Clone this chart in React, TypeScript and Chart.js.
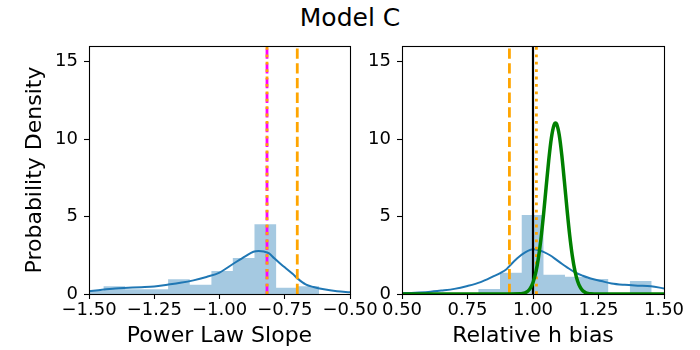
import { useEffect, useRef } from "react";
import { Chart, registerables } from "chart.js";

Chart.register(...registerables);

const FONT = "'DejaVu Sans', sans-serif";
Chart.defaults.font.family = FONT;
Chart.defaults.color = "#000";

// ---- shared axis settings ----
const densityTicks = [0, 5, 10, 15];
const densityMax = 16;

// ---- left panel: Power Law Slope ----
const slopeTicks = [-1.5, -1.25, -1.0, -0.75, -0.5];
const slopeRange = [-1.5, -0.5];
const slopeBinEdges = [-1.527, -1.444, -1.362, -1.279, -1.197, -1.114, -1.031, -0.949, -0.866, -0.783, -0.701, -0.618];
const slopeBinDensity = [0.2, 0.5, 0.3, 0.3, 0.95, 0.6, 1.48, 2.32, 4.5, 0.41, 0.5];
const slopeKdeX = [-1.5, -1.45, -1.4, -1.35, -1.3, -1.25, -1.2, -1.15, -1.1, -1.05, -1.0, -0.95, -0.9, -0.87, -0.85, -0.83, -0.81, -0.79, -0.77, -0.75, -0.72, -0.7, -0.67, -0.64, -0.6, -0.55, -0.5];
const slopeKdeY = [0.18, 0.28, 0.36, 0.4, 0.44, 0.49, 0.6, 0.72, 0.88, 1.1, 1.38, 1.92, 2.45, 2.73, 2.78, 2.74, 2.62, 2.3, 2.0, 1.72, 1.3, 0.99, 0.62, 0.45, 0.3, 0.18, 0.11];
const slopeMedian = -0.818;
const slopeReference = -0.818;
const slopeInput = -0.702;

// ---- right panel: Relative h bias ----
const biasTicks = [0.5, 0.75, 1.0, 1.25, 1.5];
const biasRange = [0.5, 1.5];
const biasBinEdges = [0.791, 0.874, 0.957, 1.04, 1.122, 1.205, 1.287, 1.37, 1.453];
const biasBinDensity = [0.33, 1.37, 5.09, 1.25, 1.12, 0.97, 0, 0.84];
const biasKdeX = [0.5, 0.55, 0.6, 0.65, 0.7, 0.75, 0.8, 0.85, 0.875, 0.9, 0.91, 0.94, 0.97, 1.0, 1.02, 1.04, 1.065, 1.09, 1.11, 1.13, 1.16, 1.19, 1.22, 1.26, 1.3, 1.35, 1.4, 1.45, 1.5];
const biasKdeY = [0.05, 0.08, 0.13, 0.22, 0.33, 0.52, 0.77, 1.15, 1.35, 1.62, 1.8, 2.3, 2.68, 2.88, 2.84, 2.72, 2.5, 2.2, 1.95, 1.72, 1.4, 1.18, 1.0, 0.84, 0.68, 0.59, 0.54, 0.5, 0.36];
const biasPriorX = [0.5, 0.9, 0.95, 0.96, 0.97, 0.98, 0.99, 1.0, 1.01, 1.02, 1.03, 1.04, 1.05, 1.06, 1.07, 1.08, 1.086, 1.09, 1.1, 1.11, 1.12, 1.13, 1.14, 1.15, 1.16, 1.17, 1.18, 1.19, 1.2, 1.21, 1.22, 1.25, 1.5];
const biasPriorY = [0, 0, 0.01, 0.03, 0.08, 0.18, 0.38, 0.74, 1.34, 2.25, 3.51, 5.09, 6.87, 8.62, 10.05, 10.89, 11.03, 10.97, 10.27, 8.94, 7.23, 5.44, 3.8, 2.47, 1.49, 0.84, 0.44, 0.21, 0.1, 0.04, 0.016, 0, 0];
const biasTrue = 1.0;
const biasReference = 1.013;
const biasInput = 0.91;

// ---- styles ----
const C0 = "#1f77b4";
const HIST_FILL = "rgba(31,119,180,0.4)";
const ORANGE = "#ffa500";
const MAGENTA = "#ff00ff";
const GREEN = "#008000";
const DASHED = [10.3, 4.4];
const DOTTED = [2.8, 4.6];

const fmtTick = (v: number) => Number(v).toFixed(2).replace("-", "\u2212");

function histogram(edges: number[], dens: number[], order: number) {
  const pts = dens.map((d, i) => ({ x: edges[i], y: d }));
  pts.push({ x: edges[edges.length - 1], y: 0 });
  return {
    data: pts,
    stepped: "before",
    borderWidth: 0,
    borderColor: "rgba(0,0,0,0)",
    backgroundColor: HIST_FILL,
    fill: "origin",
    pointRadius: 0,
    order,
  };
}

function curve(xs: number[], ys: number[], color: string, width: number, order: number) {
  return {
    data: xs.map((x, i) => ({ x, y: ys[i] })),
    borderColor: color,
    borderWidth: width,
    pointRadius: 0,
    fill: false,
    cubicInterpolationMode: "monotone",
    order,
  };
}

function vline(x: number, color: string, width: number, dash: number[], order: number) {
  return {
    data: [
      { x, y: 0 },
      { x, y: densityMax },
    ],
    borderColor: color,
    borderWidth: width,
    borderDash: dash,
    borderCapStyle: "butt",
    pointRadius: 0,
    fill: false,
    order,
  };
}

const framePlugin = {
  id: "frame",
  afterDatasetsDraw(chart: any) {
    const { ctx, chartArea: a } = chart;
    ctx.save();
    ctx.strokeStyle = "#000";
    ctx.lineWidth = 1.1;
    ctx.strokeRect(a.left + 0.5, a.top + 0.5, a.right - a.left, a.bottom - a.top);
    ctx.restore();
  },
};

interface PanelSpec {
  range: number[];
  ticks: number[];
  xTitle: string;
  yTitle?: string;
  yWidth: number;
  padRight: number;
  datasets: any[];
}

function buildConfig(spec: PanelSpec): any {
  const tickGrid = {
    drawOnChartArea: false,
    drawTicks: true,
    tickLength: 5,
    tickWidth: 1.1,
    tickColor: "#000",
  };
  return {
    type: "line",
    data: { datasets: spec.datasets },
    plugins: [framePlugin],
    options: {
      animation: false,
      responsive: false,
      events: [],
      layout: { padding: { top: 46, right: spec.padRight, left: 0, bottom: 0 } },
      plugins: { legend: { display: false }, tooltip: { enabled: false } },
      scales: {
        x: {
          type: "linear",
          min: spec.range[0],
          max: spec.range[1],
          afterBuildTicks: (s: any) => {
            s.ticks = spec.ticks.map((v) => ({ value: v }));
          },
          afterFit: (s: any) => {
            s.height = 56;
            s.paddingLeft = 0;
            s.paddingRight = 0;
          },
          ticks: {
            font: { size: 18, family: FONT },
            color: "#000",
            padding: 1,
            maxRotation: 0,
            autoSkip: false,
            callback: (v: any) => fmtTick(v),
          },
          grid: tickGrid,
          border: { display: false },
          title: {
            display: true,
            text: spec.xTitle,
            font: { size: 22, family: FONT },
            color: "#000",
            padding: { top: 0, bottom: 1 },
          },
        },
        y: {
          type: "linear",
          min: 0,
          max: densityMax,
          afterBuildTicks: (s: any) => {
            s.ticks = densityTicks.map((v) => ({ value: v }));
          },
          afterFit: (s: any) => {
            s.width = spec.yWidth;
            s.paddingTop = 0;
            s.paddingBottom = 0;
          },
          ticks: {
            font: { size: 18, family: FONT },
            color: "#000",
            padding: 6,
            autoSkip: false,
            callback: (v: any) => String(v),
          },
          grid: tickGrid,
          border: { display: false },
          title: {
            display: !!spec.yTitle,
            text: spec.yTitle || "",
            font: { size: 22, family: FONT },
            color: "#000",
            padding: { top: 22, bottom: 0 },
          },
        },
      },
    },
  };
}

function Panel({ spec, left, width }: { spec: PanelSpec; left: number; width: number }) {
  const ref = useRef<HTMLCanvasElement>(null);
  useEffect(() => {
    const chart = new Chart(ref.current as HTMLCanvasElement, buildConfig(spec));
    return () => chart.destroy();
  }, []);
  return (
    <canvas
      ref={ref}
      width={width}
      height={350}
      style={{ position: "absolute", left, top: 0, width, height: 350 }}
    />
  );
}

const slopeSpec: PanelSpec = {
  range: slopeRange,
  ticks: slopeTicks,
  xTitle: "Power Law Slope",
  yTitle: "Probability Density",
  yWidth: 89,
  padRight: 30,
  datasets: [
    vline(slopeReference, ORANGE, 2.8, DOTTED, 0),
    vline(slopeMedian, MAGENTA, 2.8, DASHED, 1),
    vline(slopeInput, ORANGE, 2.8, DASHED, 2),
    curve(slopeKdeX, slopeKdeY, C0, 2, 3),
    histogram(slopeBinEdges, slopeBinDensity, 4),
  ],
};

const biasSpec: PanelSpec = {
  range: biasRange,
  ticks: biasTicks,
  xTitle: "Relative h bias",
  yWidth: 52,
  padRight: 36,
  datasets: [
    curve(biasPriorX, biasPriorY, GREEN, 3.5, 0),
    vline(biasReference, ORANGE, 2.8, DOTTED, 1),
    vline(biasTrue, "#000", 2.2, [], 2),
    vline(biasInput, ORANGE, 2.8, DASHED, 3),
    curve(biasKdeX, biasKdeY, C0, 2, 4),
    histogram(biasBinEdges, biasBinDensity, 5),
  ],
};

export default function App() {
  return (
    <div
      style={{
        position: "fixed",
        left: 0,
        top: 0,
        width: 700,
        height: 350,
        background: "#fff",
        overflow: "hidden",
      }}
    >
      <div
        style={{
          position: "absolute",
          left: 0,
          top: 5,
          width: 700,
          textAlign: "center",
          fontFamily: FONT,
          fontSize: 25,
          lineHeight: "25px",
          color: "#000",
        }}
      >
        Model C
      </div>
      <Panel spec={slopeSpec} left={0} width={380} />
      <Panel spec={biasSpec} left={350} width={350} />
    </div>
  );
}
